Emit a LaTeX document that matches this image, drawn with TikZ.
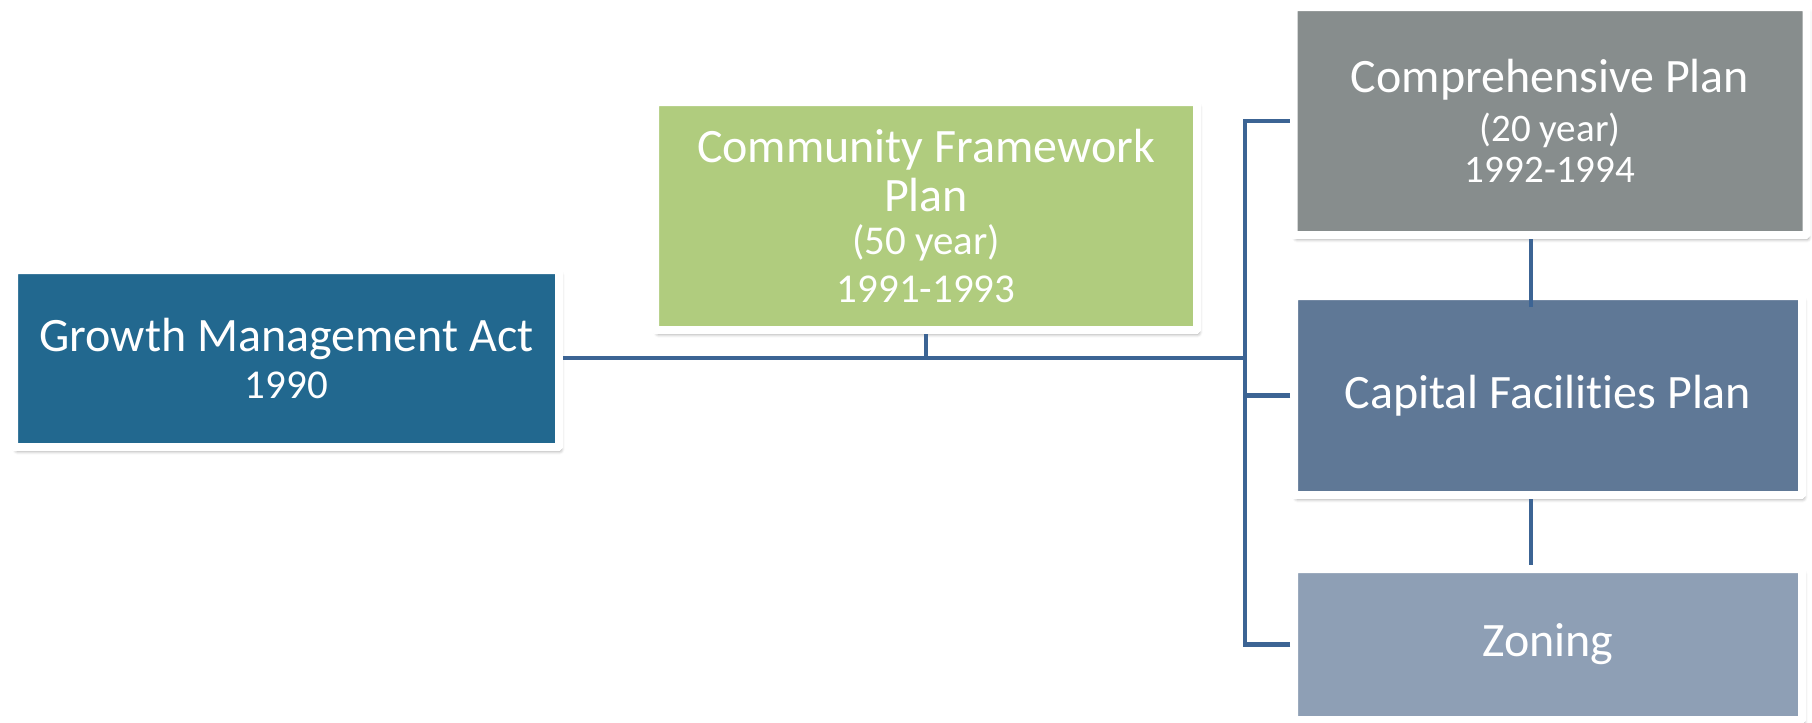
\documentclass[tikz,border=0pt]{standalone}
\usepackage{fontspec}
\setmainfont{Carlito}[Ligatures=NoCommon]
\usepackage{xcolor}
\usetikzlibrary{shadows.blur}
\definecolor{gmaBlue}{RGB}{34, 104, 143}
\definecolor{cfpGreen}{RGB}{176, 204, 126}
\definecolor{compGray}{RGB}{135, 141, 141}
\definecolor{capSlate}{RGB}{95, 120, 150}
\definecolor{zoneSlate}{RGB}{142, 159, 181}
\definecolor{linkBlue}{RGB}{60, 100, 148}
\newcommand{\bigtxt}{\fontsize{27.3}{28.4}\selectfont\lineskiplimit=-20pt\relax}
\newcommand{\smalltxt}{\fontsize{23.3}{28.4}\selectfont}
\newcommand{\comptxt}{\fontsize{27.3}{26}\selectfont\lineskiplimit=-20pt\relax}
\newcommand{\compsmall}{\fontsize{22.2}{25}\selectfont}

\begin{document}
\begin{tikzpicture}[
    planbox/.style={draw=white, line width=0.16cm, rounded corners=0.02cm, text=white, inner sep=0pt, align=center, font=\bigtxt,
        blur shadow={shadow xshift=0.04cm, shadow yshift=-0.08cm, shadow blur radius=0.07cm, shadow opacity=40}},
    link/.style={draw=linkBlue, line width=0.09cm, rounded corners=0pt}
]
            \useasboundingbox (0,0) rectangle (36.24,-14.46);

            % Act
            \node[planbox, fill=gmaBlue, minimum width=10.90cm, minimum height=3.54cm] (gma) at (5.73,-7.17) {Growth Management Act\\[-1.5pt]{\smalltxt 1990}};

            % Framework plan
            \node[planbox, fill=cfpGreen, minimum width=10.84cm, minimum height=4.56cm] (cfp) at (18.52,-4.32) {Community Framework\\Plan\\[-4pt]{\smalltxt (50 year)}\\[-1pt]{\smalltxt 1991-1993}};

            % Plans on the right
            \node[planbox, fill=compGray, minimum width=10.26cm, minimum height=4.56cm, font=\comptxt] (comp) at (31.00,-2.42) {Comprehensive Plan\\[1.5pt]{\compsmall (20 year)}\\[-2.5pt]{\compsmall 1992-1994}};

            \node[planbox, fill=capSlate, minimum width=10.16cm, minimum height=3.98cm] (capital) at (30.96,-7.91) {Capital Facilities Plan};

            \node[planbox, fill=zoneSlate, minimum width=10.16cm, minimum height=3.02cm] (zoning) at (30.96,-12.89) {Zoning};

            % Connectors
            \coordinate (join) at (24.90,-7.16);
            \draw[link] (gma.east |- join) -- (join);
            \draw[link] (cfp.south) -- (cfp.south |- join);
            \draw[link] (comp.west) -| (join);
            \draw[link] (capital.west) -| (join);
            \draw[link] (zoning.west) -| (join);
            \draw[link, shorten <=-0.3cm] ([xshift=-0.34cm]capital.north) -- ([xshift=-0.34cm]capital.north |- comp.south);
            \draw[link] ([xshift=-0.34cm]capital.south) -- ([xshift=-0.34cm]zoning.north);
        \end{tikzpicture}
\end{document}
